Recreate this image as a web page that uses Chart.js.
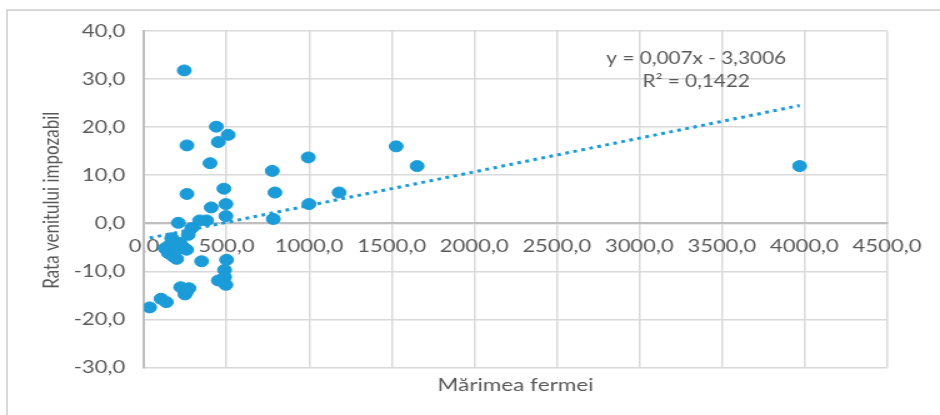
<!DOCTYPE html>
<html>
<head>
<meta charset="utf-8">
<script src="https://cdn.jsdelivr.net/npm/chart.js@4/dist/chart.umd.min.js"></script>
<style>
  html, body { margin: 0; padding: 0; background: #fff; overflow: hidden; }
  #frame { position: absolute; left: 6px; top: 9px; right: 0; bottom: 0; border-left: 2px solid #d9d9d9; border-top: 2px solid #d9d9d9; }
  /* the reference is a horizontally stretched Excel picture, so stretch the canvas the same way */
  #wrap { position: absolute; left: 0; top: 0; width: 752px; height: 415px; transform: scaleX(1.25); transform-origin: 0 0; }
</style>
</head>
<body>
<div id="frame"></div>
<div id="wrap"><canvas id="chart"></canvas></div>
<script>
// farm size (x) and taxable income rate (y)
const farmSize   = [244, 438, 510, 260, 450, 400, 484, 260, 496, 407, 496, 379, 337, 208, 289, 268, 168, 218, 157, 127,
                    258, 147, 177, 198, 349, 500, 488, 488, 450, 496, 222, 272, 248, 258, 103, 135, 34, 232, 190,
                    777, 793, 783, 995, 999, 1182, 1527, 1654, 3971];
const incomeRate = [31.8, 20.1, 18.4, 16.2, 16.9, 12.5, 7.2, 6.1, 4.0, 3.3, 1.5, 0.6, 0.6, 0.1, -1.0, -2.4, -3.1, -4.1, -4.5, -5.2,
                    -5.5, -6.2, -6.9, -7.4, -7.9, -7.6, -9.7, -11.2, -11.9, -12.8, -13.3, -13.5, -14.8, -14.2, -15.7, -16.4, -17.5, -4.8, -5.8,
                    10.9, 6.4, 0.9, 13.7, 4.0, 6.4, 16.0, 11.9, 11.9];

const xTickValues = [0, 500, 1000, 1500, 2000, 2500, 3000, 3500, 4000, 4500];
const yTickValues = [-30, -20, -10, 0, 10, 20, 30, 40];

const trendSlope = 0.007;
const trendIntercept = -3.3006;
const trendLabel = ['y = 0,007x - 3,3006', 'R\u00b2 = 0,1422'];

const xTitle = 'M\u0103rimea fermei';
const yTitle = 'Rata venitului impozabil';

const BLUE = '#1b9bd7';
const TEXT = '#595959';
const FONT = 'Lato';

const fmt = v => Number(v).toFixed(1).replace('.', ',');

const trendX = [Math.min(...farmSize), Math.max(...farmSize)];

const titles = {
  id: 'titles',
  afterDraw(chart) {
    const { ctx, chartArea } = chart;
    ctx.save();
    ctx.fillStyle = TEXT;
    ctx.textAlign = 'center';
    ctx.textBaseline = 'middle';

    ctx.font = `18px ${FONT}`;
    ctx.fillText(xTitle, (chartArea.left + chartArea.right) / 2, 385);

    ctx.font = `17px ${FONT}`;
    ctx.save();
    ctx.translate(41.6, (chartArea.top + chartArea.bottom) / 2 + 1);
    ctx.rotate(-Math.PI / 2);
    ctx.fillText(yTitle, 0, 0);
    ctx.restore();

    ctx.font = `16.6px ${FONT}`;
    ctx.fillText(trendLabel[0], 557, 59);
    ctx.fillText(trendLabel[1], 557, 81.5);
    ctx.restore();
  }
};

const tickFont = { family: FONT, size: 17.6 };

new Chart(document.getElementById('chart'), {
  type: 'scatter',
  data: {
    datasets: [
      {
        label: 'trend',
        type: 'line',
        data: trendX.map(x => ({ x, y: trendSlope * x + trendIntercept })),
        borderColor: BLUE,
        borderWidth: 3,
        borderDash: [3, 3.6],
        pointRadius: 0,
        fill: false,
        order: 0
      },
      {
        label: yTitle,
        data: farmSize.map((x, i) => ({ x, y: incomeRate[i] })),
        backgroundColor: BLUE,
        borderColor: BLUE,
        pointRadius: 5.5,
        pointHoverRadius: 5.5,
        order: 1
      }
    ]
  },
  options: {
    responsive: true,
    maintainAspectRatio: false,
    animation: false,
    layout: { padding: { left: 0, right: 42.4, top: 31, bottom: 47.5 } },
    plugins: { legend: { display: false }, tooltip: { enabled: false } },
    scales: {
      x: {
        type: 'linear',
        position: { y: 0 },
        min: xTickValues[0],
        max: xTickValues[xTickValues.length - 1],
        afterBuildTicks: s => { s.ticks = xTickValues.map(value => ({ value })); },
        ticks: { color: TEXT, font: tickFont, padding: 12, maxRotation: 0, autoSkip: false, callback: fmt },
        grid: { color: '#d9d9d9', lineWidth: 1.5, drawTicks: false },
        border: { color: '#bfbfbf', width: 2 }
      },
      y: {
        min: yTickValues[0],
        max: yTickValues[yTickValues.length - 1],
        afterBuildTicks: s => { s.ticks = yTickValues.map(value => ({ value })); },
        afterFit: s => { s.width = 115.2; },
        ticks: { color: TEXT, font: tickFont, padding: 15, callback: fmt },
        grid: { color: '#d9d9d9', lineWidth: 1.5, drawTicks: false },
        border: { color: '#bfbfbf', width: 2 }
      }
    }
  },
  plugins: [titles]
});
</script>
</body>
</html>
